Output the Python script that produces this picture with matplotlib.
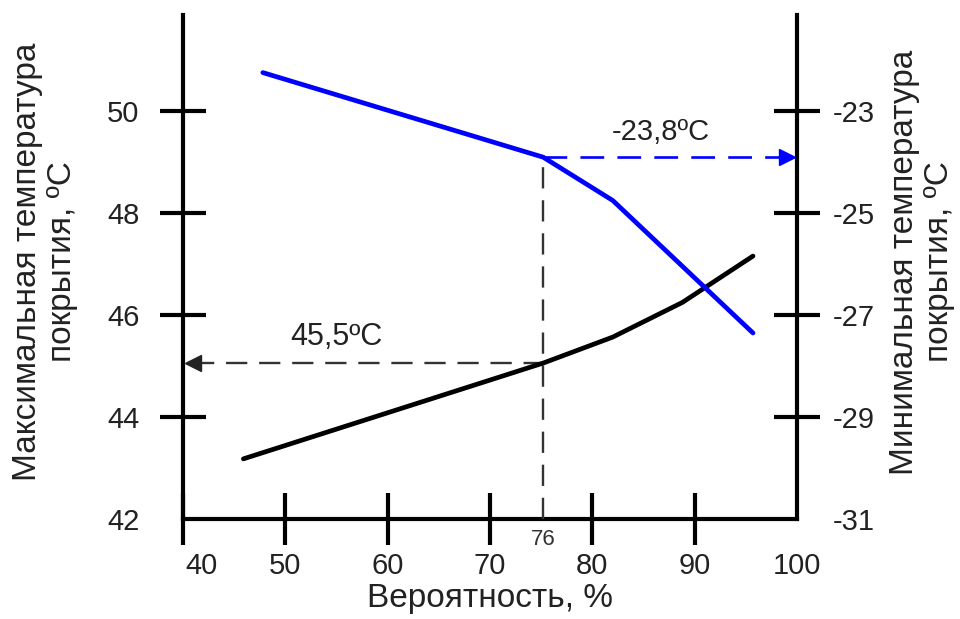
import matplotlib
matplotlib.use("Agg")
import matplotlib.pyplot as plt
import matplotlib.transforms as mtransforms

plt.rcParams['font.family'] = ['Liberation Sans', 'DejaVu Sans']

# Data
prob_max = [45.9, 75.2, 82.0, 88.8, 95.7]
t_max = [43.18, 45.06, 45.57, 46.25, 47.16]

prob_min = [47.8, 75.2, 82.0, 95.7]
t_min = [-22.24, -23.9, -24.75, -27.35]

x_ticks = [40, 50, 60, 70, 80, 90, 100]
left_ticks = [42, 44, 46, 48, 50]
right_ticks = [-31, -29, -27, -25, -23]

x_mark = 75.2
y_mark_max = 45.06
y_mark_min = -23.9
label_max = "45,5ºC"
label_min = "-23,8ºC"
label_mark = "76"

OFFSET = 73.0  # left axis value - right axis value
ylim_left = (42, 51.9)

fig = plt.figure(figsize=(9.6, 6.19), dpi=100)
ax = fig.add_axes([183/960, 100/619, 614/960, 504.5/619])
ax2 = ax.twinx()

txt = '#222222'
fs = 21
fs_lab = 24

ax.set_xlim(40, 100)
ax.set_ylim(*ylim_left)
ax2.set_ylim(ylim_left[0] - OFFSET, ylim_left[1] - OFFSET)

for a in (ax, ax2):
    for s in a.spines.values():
        s.set_linewidth(3)
        s.set_color('black')
    a.spines['top'].set_visible(False)
    a.patch.set_visible(False)

ax.spines['right'].set_visible(False)
ax2.spines['left'].set_visible(False)
ax2.spines['bottom'].set_visible(False)

ax.set_xticks(x_ticks)
ax.set_xticklabels([str(v) for v in x_ticks])
ax.tick_params(axis='x', direction='inout', length=38, width=3, pad=5,
               labelsize=fs, labelcolor=txt)
ax.xaxis.get_major_ticks()[-1].tick1line.set_visible(False)
# shift "40" label to the right
lbl40 = ax.get_xticklabels()[0]
lbl40.set_transform(lbl40.get_transform() + mtransforms.ScaledTranslation(19/100, 0, fig.dpi_scale_trans))

ax.set_yticks(left_ticks)
ax.set_yticklabels([str(v) for v in left_ticks])
ax.tick_params(axis='y', direction='inout', length=33, width=3, pad=15,
               labelsize=fs, labelcolor=txt)
ax.yaxis.get_major_ticks()[0].tick1line.set_visible(False)

ax2.set_yticks(right_ticks)
ax2.set_yticklabels([str(v) for v in right_ticks])
ax2.tick_params(axis='y', direction='inout', length=33, width=3, pad=9,
                labelsize=fs, labelcolor=txt)
ax2.yaxis.get_major_ticks()[0].tick2line.set_visible(False)

# curves
ax.plot(prob_max, t_max, color='black', lw=3.4, solid_capstyle='round', zorder=5)
ax2.plot(prob_min, t_min, color='#0000FF', lw=3.4, solid_capstyle='round', zorder=5)

# guide lines
ax.plot([x_mark, x_mark], [ylim_left[0], y_mark_min + OFFSET], color='#333333',
        lw=1.7, linestyle=(0, (9, 5)), zorder=3)
ax.plot([41.0, x_mark], [y_mark_max, y_mark_max], color='#333333',
        lw=1.7, linestyle=(0, (9, 5)), zorder=3)
ax.plot([41.0], [y_mark_max], marker='<', color='#222222', markersize=11, zorder=4,
        clip_on=False)
ax2.plot([x_mark, 99.0], [y_mark_min, y_mark_min], color='#0000FF',
         lw=1.9, linestyle=(0, (9, 5)), zorder=3)
ax2.plot([99.0], [y_mark_min], marker='>', color='#0000FF', markersize=11, zorder=4,
         clip_on=False)

ax.text(55.0, y_mark_max + 0.22, label_max, fontsize=22, color=txt, ha='center', va='bottom')
ax2.text(86.7, y_mark_min + 0.22, label_min, fontsize=21, color=txt, ha='center', va='bottom')
ax.text(x_mark, ylim_left[0] - 0.2, label_mark, fontsize=16, color='#333333',
        ha='center', va='top')

ax.set_xlabel("Вероятность, %", fontsize=fs_lab, color=txt, labelpad=2)

fig.text(45/960, 1 - 262/619, "Максимальная температура\nпокрытия, ºC", rotation=90,
         ha='center', va='center', multialignment='center', fontsize=fs_lab, color=txt,
         linespacing=1.15)
fig.text(922/960, 1 - 262/619, "Минимальная температура\nпокрытия, ºC", rotation=90,
         ha='center', va='center', multialignment='center', fontsize=fs_lab, color=txt,
         linespacing=1.15)

fig.savefig("out.png", dpi=100)
